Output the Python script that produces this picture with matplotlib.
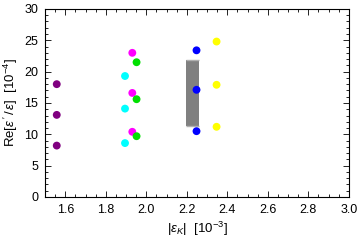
import matplotlib
matplotlib.use("Agg")
import matplotlib.pyplot as plt
from matplotlib.ticker import MultipleLocator

plt.rcParams['font.family'] = ['Liberation Sans', 'DejaVu Sans']
plt.rcParams['mathtext.fontset'] = 'custom'
plt.rcParams['mathtext.rm'] = 'Liberation Sans'
plt.rcParams['mathtext.it'] = 'Liberation Sans:italic'
plt.rcParams['mathtext.fallback'] = 'cm'

# point groups: x position and three y values each
groups = ["purple", "cyan", "magenta", "green", "blue", "yellow"]
group_x = [1.558, 1.895, 1.931, 1.952, 2.248, 2.347]
group_y = [
    [18.0, 13.1, 8.2],
    [19.3, 14.1, 8.6],
    [23.0, 16.6, 10.4],
    [21.5, 15.6, 9.7],
    [23.4, 17.1, 10.5],
    [24.8, 17.9, 11.2],
]
colors = ["#800080", "#00ffff", "#ff00ff", "#00e000", "#0000ff", "#ffff00"]

# gray band (experimental range)
band_x = [2.196, 2.260]
band_y = [11.3, 21.8]

fig = plt.figure(figsize=(3.6, 2.42), dpi=100)
ax = fig.add_axes([0.125, 0.186, 0.844, 0.777])

ax.fill_between(band_x, band_y[0], band_y[1], color="#808080", lw=0, zorder=2)
ax.hlines(band_y, band_x[0], band_x[1], color="#b0b0b0", lw=1, zorder=2)

for x, ys, c in zip(group_x, group_y, colors):
    ax.scatter([x] * len(ys), ys, s=32, color=c, edgecolors="none", zorder=3)

ax.set_xlim(1.5, 3.0)
ax.set_ylim(0, 30)
ax.xaxis.set_major_locator(MultipleLocator(0.2))
ax.xaxis.set_minor_locator(MultipleLocator(0.05))
ax.yaxis.set_major_locator(MultipleLocator(5))
ax.yaxis.set_minor_locator(MultipleLocator(1))
ax.tick_params(which="both", direction="in", top=True, right=True,
               labelsize=9, width=0.6, pad=5)
ax.tick_params(which="major", length=4)
ax.tick_params(which="minor", length=2)
ax.xaxis.set_major_formatter(plt.FuncFormatter(lambda v, p: f"{v:.1f}"))
for s in ax.spines.values():
    s.set_linewidth(0.8)

ax.set_xlabel(r"|$\epsilon_K$|  [10$^{-3}$]", fontsize=9.5, labelpad=3)
ax.set_ylabel(r"Re[$\epsilon\,'\,/\,\epsilon$]  [10$^{-4}$]", fontsize=9.5, labelpad=3)

fig.savefig("out.png", dpi=100)
